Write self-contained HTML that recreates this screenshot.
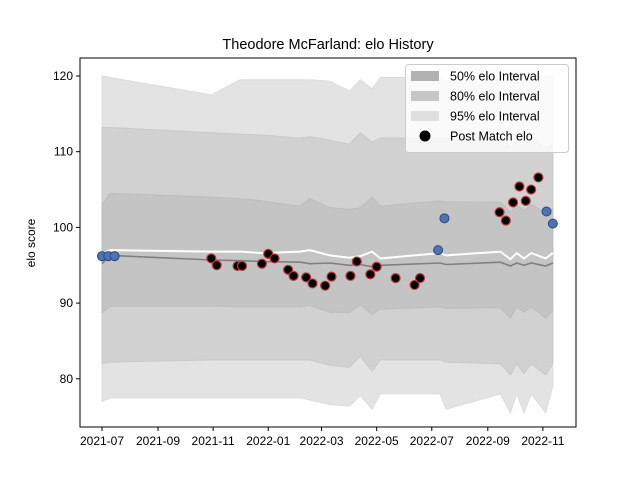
<!DOCTYPE html>
<html><head><meta charset="utf-8"><style>
body{margin:0;background:#fff}
svg{display:block;font-family:"Liberation Sans","DejaVu Sans",sans-serif}
</style></head><body>
<svg id="chart" width="640" height="480" viewBox="0 0 640 480">
<rect width="640" height="480" fill="#fff"/>
<text x="328" y="49" font-size="14.5" text-anchor="middle">Theodore McFarland: elo History</text>
<text transform="translate(35,243) rotate(-90)" font-size="12" text-anchor="middle">elo score</text>
<g id="plot"></g>
</svg>
<script>
// band grid: days since 2021-07-01
const bandDays=[0,9,121,153,177,219,230,252,274,286,299,308,374,381,441,452,459,467,475,491,499];
const upper95=[120,119.8,117.5,119.5,119.5,119.5,119.5,119.3,118,119.5,118.3,119.8,119.8,119.2,119,118,120,120,120,120,120];
const upper80=[113.2,113.2,112.5,112.3,112.2,111.8,112,111.5,111,112.5,111.3,111.8,111.8,111.8,112,110.6,111.5,110.8,112,110.5,111];
const upper50=[103,104.5,104,103.8,103.5,102.8,103.8,102.6,102.4,102.6,104,102.8,103.5,103.4,103.3,102,103,102.2,103,102,102.5];
const medianLine=[95.2,96.3,95.7,95.6,95.5,95.4,95.2,95.3,95,95.1,94.8,95.0,95.3,95.1,95.4,94.9,95.3,95.0,95.3,94.9,95.3];
const meanLine=[96.5,97,96.8,96.8,96.6,96.8,97,96.3,96,96.2,96.8,95.9,96.6,96.3,96.8,95.8,96.6,95.9,96.6,95.9,96.6];
const lower50=[88.7,89.6,89.6,89.5,89.5,89.5,89.7,88.8,88.8,89.8,88.5,89.2,89.5,89.3,89.4,88,89.5,88.8,89.5,88,89];
const lower80=[82,82.2,82.5,82.5,82.5,82.5,82.5,81.8,81.5,83,81,82.5,82.5,82.2,82,80.5,82,80.7,82,80.5,82];
const lower95=[77,77.5,77.5,77.5,77.5,77.5,77.2,76.6,76.4,77.8,76,78,78,76,78,75.5,78,75.5,78,75.5,79];
// post-match points
const blueDays=[0,7,14,372,379,492,499];
const blueElo=[96.2,96.2,96.2,97.0,101.2,102.1,100.5];
const redDays=[121,127,150,155,177,184,191,206,212,226,233,247,254,275,282,297,304,325,346,352,440,447,455,462,469,475,483];
const redElo=[95.9,95.0,94.9,94.9,95.2,96.5,95.9,94.4,93.6,93.4,92.6,92.3,93.5,93.6,95.5,93.8,94.8,93.3,92.4,93.3,102.0,100.9,103.3,105.4,103.5,105.0,106.6];
const tickLabels=["2021-07","2021-09","2021-11","2022-01","2022-03","2022-05","2022-07","2022-09","2022-11"];
const tickDays=[0,62,123,184,243,304,365,427,488];
const yTicks=[80,90,100,110,120];

const NS="http://www.w3.org/2000/svg";
const L=80,R=576,T=58,B=427;
const xs=d=>102+d*0.9035;
const ys=v=>76+(120-v)*7.57;
const g=document.getElementById('plot');
function mk(tag,attrs,parent){const e=document.createElementNS(NS,tag);for(const k in attrs)e.setAttribute(k,attrs[k]);(parent||g).appendChild(e);return e;}
function bandPath(up,lo){let d='M';bandDays.forEach((t,i)=>{d+=xs(t).toFixed(1)+','+ys(up[i]).toFixed(1)+' L';});
for(let i=bandDays.length-1;i>=0;i--){d+=xs(bandDays[i]).toFixed(1)+','+ys(lo[i]).toFixed(1)+(i?' L':' Z');}return d;}
function linePath(arr){return bandDays.map((t,i)=>(i?'L':'M')+xs(t).toFixed(1)+','+ys(arr[i]).toFixed(1)).join(' ');}

let e;
e=mk('path',{d:bandPath(upper95,lower95),fill:'#e3e3e3',stroke:'#dcdcdc','stroke-width':1});


e=mk('path',{d:bandPath(upper80,lower80),fill:'#d1d1d1',stroke:'#c9c9c9','stroke-width':1});


e=mk('path',{d:bandPath(upper50,lower50),fill:'#c4c4c4',stroke:'#bdbdbd','stroke-width':1});


e=mk('path',{d:linePath(medianLine),fill:'none',stroke:'#808080','stroke-width':1.6});


e=mk('path',{d:linePath(meanLine),fill:'none',stroke:'#ffffff','stroke-width':2});



redDays.forEach((t,i)=>{const c=mk('circle',{cx:xs(t),cy:ys(redElo[i]),r:4.5,fill:'#000',stroke:'#c03a3a','stroke-width':1.2});

});
blueDays.forEach((t,i)=>{const c=mk('circle',{cx:xs(t),cy:ys(blueElo[i]),r:4.5,fill:'#4e74b0',stroke:'#2a4b85','stroke-width':1});

});

e=mk('rect',{x:L,y:T,width:R-L,height:B-T,fill:'none',stroke:'#000','stroke-width':1});



tickDays.forEach((t,i)=>{const x=xs(t);mk('line',{x1:x,x2:x,y1:B,y2:B+4,stroke:'#000'});
const tx=mk('text',{x:x,y:B+18,'font-size':12,'text-anchor':'middle'});tx.textContent=tickLabels[i];

});
yTicks.forEach(v=>{const y=ys(v);mk('line',{x1:L-4,x2:L,y1:y,y2:y,stroke:'#000'});
const tx=mk('text',{x:L-7,y:y+4,'font-size':12,'text-anchor':'end'});tx.textContent=v;

});

// legend
const lg=mk('g',{});


mk('rect',{x:405.5,y:64.5,width:163,height:88,rx:3,fill:'#fff','fill-opacity':0.8,stroke:'#ccc'},lg);
const entries=[['50% elo Interval','#b2b2b2'],['80% elo Interval','#c6c6c6'],['95% elo Interval','#dedede'],['Post Match elo',null]];
entries.forEach((en,i)=>{const y=76+i*20;
if(en[1])mk('rect',{x:411,y:y-5,width:28,height:10,fill:en[1]},lg);
else mk('circle',{cx:425,cy:y,r:5.5,fill:'#000'},lg);
const tx=mk('text',{x:450,y:y+4.5,'font-size':12.5},lg);tx.textContent=en[0];

});
</script>
</body></html>
